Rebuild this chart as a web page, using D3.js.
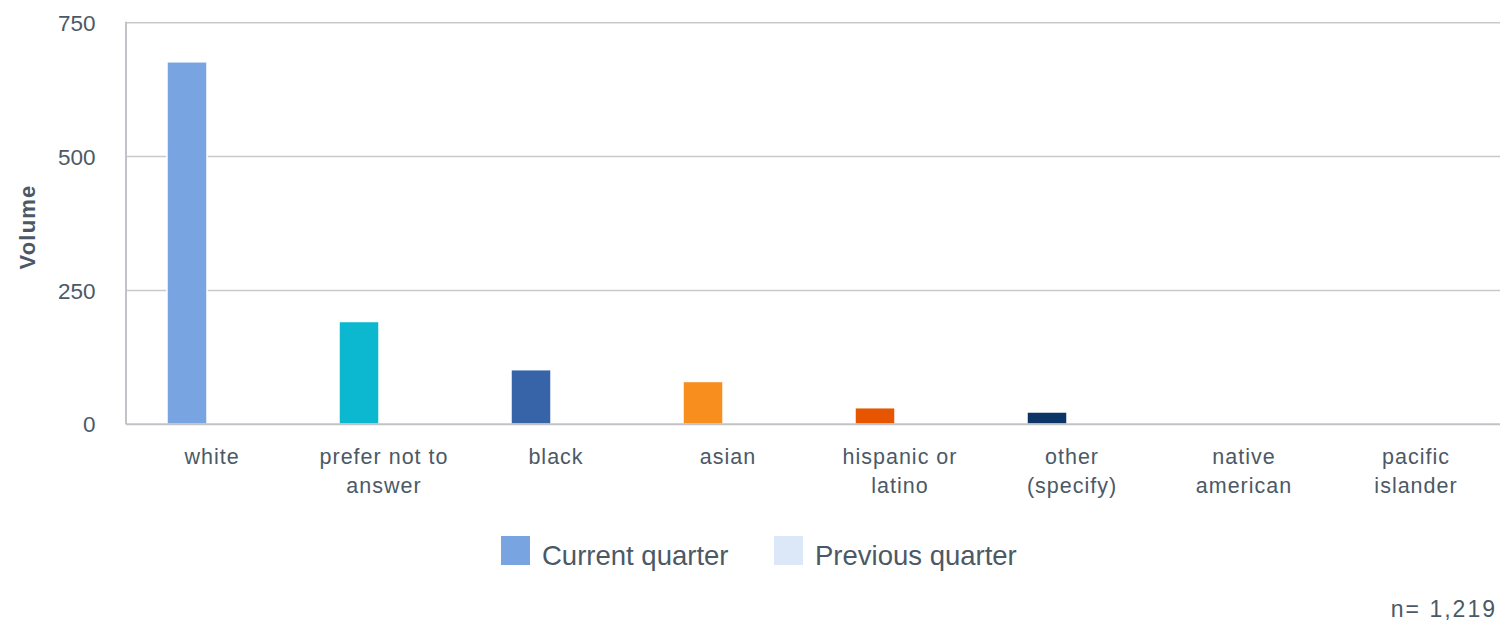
<!DOCTYPE html>
<html lang="en">
  <head>
    <meta charset="UTF-8" />
    <title>Volume by race</title>
    <script src="https://cdn.jsdelivr.net/npm/d3@7"></script>
    <style>
      body { margin: 0; background: #fff; }
      text { font-family: "Liberation Sans", Arial, sans-serif; fill: #4b5966; }
    </style>
  </head>
  <body>
    <svg width="1500" height="625"></svg>
  </body>

  <script>
    // data
    var categories = [
      ['white'], ['prefer not to', 'answer'], ['black'], ['asian'],
      ['hispanic or', 'latino'], ['other', '(specify)'], ['native', 'american'], ['pacific', 'islander']
    ];
    var currentQuarter = [677, 192, 102, 80, 31, 23, 0, 0];
    var previousQuarter = [0, 0, 0, 0, 0, 0, 0, 0];
    var barColors = ['#78a5e2', '#0bb8cf', '#3763a9', '#f78e1e', '#e75500', '#0a3566', '#78a5e2', '#78a5e2'];
    var seriesNames = ['Current quarter', 'Previous quarter'];
    var legendColors = ['#78a5e2', '#dce8f8'];
    var yTicks = [0, 250, 500, 750];
    var nLabel = 'n= 1,219';

    var svg = d3.select('svg');
    var plotLeft = 126, plotRight = 1502, plotTop = 22.7, plotBottom = 424.3; // 绘图区边界

    var x0 = d3.scaleBand().domain(d3.range(categories.length)).range([plotLeft, plotRight]);
    var x1 = d3.scaleBand().domain([0, 1]).range([-45, 45]).paddingInner(0.2);
    var y = d3.scaleLinear().domain([0, 750]).range([plotBottom, plotTop]);

    // grid lines
    svg.append('g')
      .selectAll('line')
      .data(yTicks.filter(function (d) { return d > 0; }))
      .enter()
      .append('line')
      .attr('x1', plotLeft).attr('x2', 1500)
      .attr('y1', function (d) { return y(d); })
      .attr('y2', function (d) { return y(d); })
      .attr('stroke', '#c6cacd')
      .attr('stroke-width', 1.5);

    // y tick labels
    svg.append('g')
      .selectAll('text')
      .data(yTicks)
      .enter()
      .append('text')
      .attr('x', 95.5)
      .attr('y', function (d) { return y(d); })
      .attr('dy', '0.36em')
      .attr('text-anchor', 'end')
      .style('font-size', '22.5px')
      .text(function (d) { return d; });

    // bars
    var groups = svg.append('g')
      .selectAll('g')
      .data(categories)
      .enter()
      .append('g')
      .attr('transform', function (d, i) { return 'translate(' + (x0(i) + x0.bandwidth() / 2) + ',0)'; });

    groups.append('rect')
      .attr('x', x1(0))
      .attr('width', x1.bandwidth())
      .attr('y', function (d, i) { return y(currentQuarter[i]); })
      .attr('height', function (d, i) { return y(0) - y(currentQuarter[i]); })
      .attr('fill', function (d, i) { return barColors[i]; })
      .attr('stroke', '#fff')
      .attr('stroke-width', 1.5);

    groups.append('rect')
      .attr('x', x1(1))
      .attr('width', x1.bandwidth())
      .attr('y', function (d, i) { return y(previousQuarter[i]); })
      .attr('height', function (d, i) { return y(0) - y(previousQuarter[i]); })
      .attr('fill', legendColors[1]);

    // category labels
    groups.append('text')
      .attr('text-anchor', 'middle')
      .style('font-size', '21.5px')
      .style('letter-spacing', '1px')
      .selectAll('tspan')
      .data(function (d) { return d; })
      .enter()
      .append('tspan')
      .attr('x', 0)
      .attr('y', function (d, i) { return 464 + i * 29; })
      .text(function (d) { return d; });

    // axes lines
    svg.append('line')
      .attr('x1', plotLeft).attr('x2', plotLeft)
      .attr('y1', plotTop - 1).attr('y2', plotBottom)
      .attr('stroke', '#c0c4c8').attr('stroke-width', 2);
    svg.append('line')
      .attr('x1', plotLeft).attr('x2', 1500)
      .attr('y1', plotBottom).attr('y2', plotBottom)
      .attr('stroke', '#c0c4c8').attr('stroke-width', 2);

    // y axis title
    svg.append('text')
      .attr('transform', 'translate(35,227) rotate(-90)')
      .attr('text-anchor', 'middle')
      .style('font-size', '22px')
      .style('font-weight', 'bold')
      .style('letter-spacing', '1.2px')
      .text('Volume');

    // legend
    var legendX = [501, 774];
    var legend = svg.append('g')
      .selectAll('g')
      .data(seriesNames)
      .enter()
      .append('g')
      .attr('transform', function (d, i) { return 'translate(' + legendX[i] + ',536)'; });
    legend.append('rect')
      .attr('width', 29).attr('height', 29)
      .attr('fill', function (d, i) { return legendColors[i]; });
    legend.append('text')
      .attr('x', 41).attr('y', 28.5)
      .style('font-size', '27.5px')
      .text(function (d) { return d; });

    // n label
    svg.append('text')
      .attr('x', 1497).attr('y', 616.5)
      .attr('text-anchor', 'end')
      .style('font-size', '23px')
      .style('letter-spacing', '2px')
      .text(nLabel);
  </script>
</html>
